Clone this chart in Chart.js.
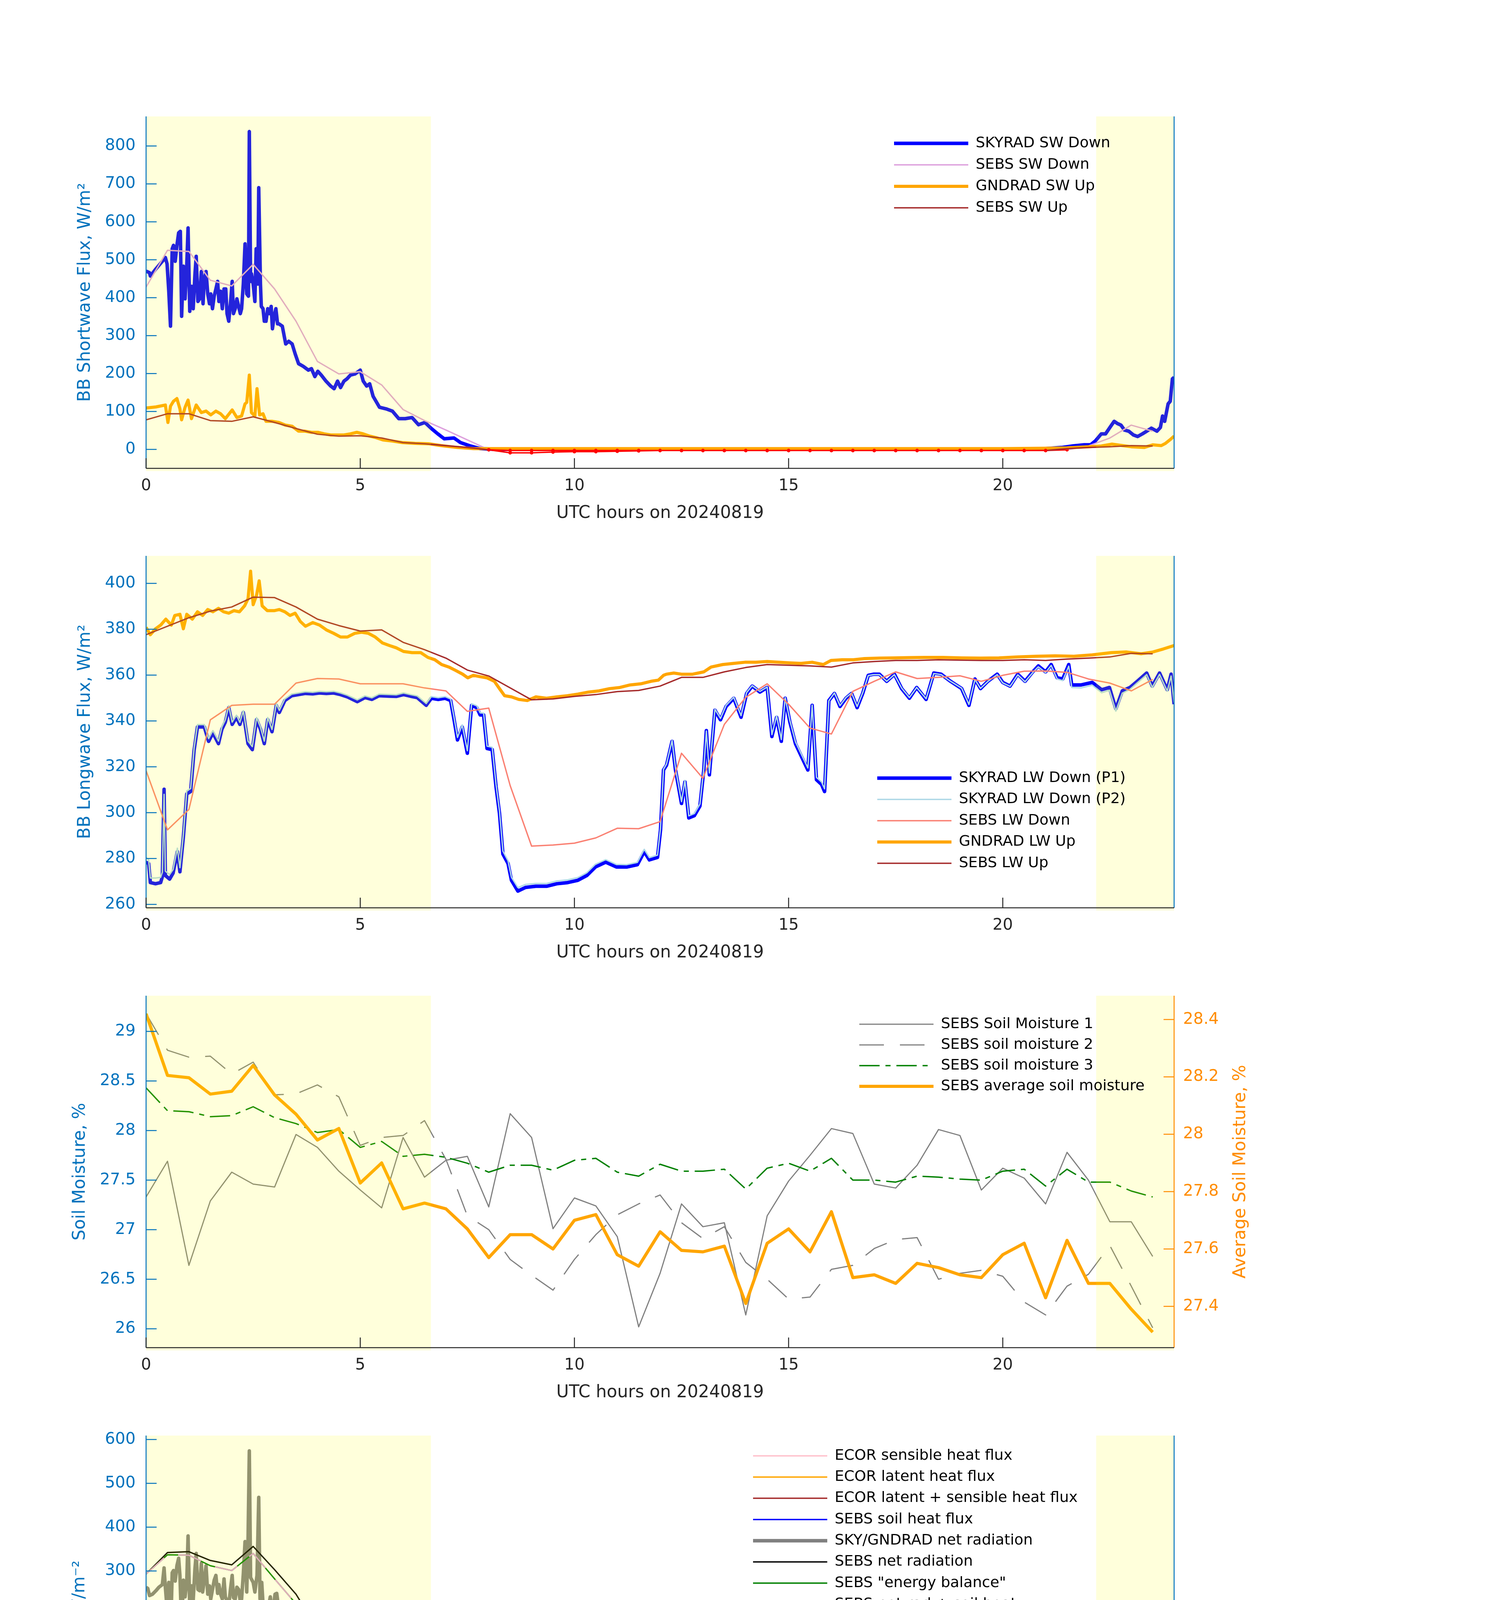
<!DOCTYPE html>
<html>
<head>
<meta charset="utf-8">
<title>Surface radiation and fluxes, 20240819</title>
<script src="https://cdn.jsdelivr.net/npm/chart.js@4.4.1/dist/chart.umd.min.js"></script>
<style>
html, body { margin: 0; padding: 0; background: #ffffff; }
body { position: relative; width: 3825px; height: 4875px; overflow: hidden; }
canvas { position: absolute; left: 0; }
</style>
</head>
<body>
<canvas id="swChart" width="3825" height="1341" style="top:0px;width:3825px;height:1341px"></canvas>
<canvas id="lwChart" width="3825" height="1341" style="top:1125px;width:3825px;height:1341px"></canvas>
<canvas id="smChart" width="3825" height="1341" style="top:2251px;width:3825px;height:1341px"></canvas>
<canvas id="fluxChart" width="3825" height="1341" style="top:3377px;width:3825px;height:1341px"></canvas>
<script>
// ---------------- data ----------------
var halfHours = [0,0.5,1,1.5,2,2.5,3,3.5,4,4.5,5,5.5,6,6.5,7,7.5,8,8.5,9,9.5,10,10.5,11,11.5,
  12,12.5,13,13.5,14,14.5,15,15.5,16,16.5,17,17.5,18,18.5,19,19.5,20,20.5,21,21.5,22,22.5,23,23.5];
var hourTicks = [0, 5, 10, 15, 20];
var shadeSpans = [[0, 6.65], [22.18, 24]];

// panel 1 - shortwave
var swTicks = [0, 100, 200, 300, 400, 500, 600, 700, 800];
var skySwHours = [0.00,0.08,0.10,0.23,0.38,0.45,0.49,0.53,0.57,0.61,
  0.64,0.68,0.72,0.76,0.80,0.83,0.87,0.91,0.95,0.98,
  1.02,1.06,1.10,1.14,1.17,1.21,1.25,1.29,1.33,1.36,
  1.40,1.44,1.48,1.51,1.55,1.59,1.63,1.67,1.70,1.74,
  1.78,1.82,1.86,1.89,1.93,1.97,2.01,2.04,2.08,2.12,
  2.16,2.20,2.23,2.27,2.31,2.35,2.39,2.41,2.44,2.46,
  2.50,2.54,2.57,2.61,2.63,2.67,2.69,2.73,2.76,2.80,
  2.84,2.88,2.92,2.95,2.99,3.03,3.07,3.10,3.18,3.26,
  3.33,3.41,3.48,3.56,3.67,3.79,3.86,3.94,4.01,4.09,
  4.20,4.31,4.39,4.47,4.54,4.62,4.69,4.77,4.88,5.00,
  5.07,5.15,5.22,5.30,5.45,5.60,5.75,5.90,6.05,6.21,
  6.36,6.51,6.66,6.81,6.96,7.19,7.34,7.57,7.80,8.20,
  9.50,11.00,13.00,15.00,17.00,19.00,20.50,21.00,21.37,21.63,
  21.90,22.05,22.16,22.30,22.40,22.52,22.60,22.68,22.76,22.84,
  22.94,23.05,23.15,23.26,23.36,23.47,23.60,23.68,23.73,23.78,
  23.86,23.91,23.96,24.00];
var skySwDown = [470,466,457,476,496,506,489,417,325,529,
  538,496,538,571,575,351,483,397,486,584,
  364,430,371,460,509,390,397,469,384,450,
  469,410,384,410,371,404,423,443,390,417,
  371,423,423,358,338,384,443,358,371,397,
  377,358,371,436,542,410,404,838,443,463,
  436,390,529,436,690,436,377,371,338,338,
  371,358,377,318,351,371,331,331,325,278,
  285,278,252,226,219,209,213,192,206,196,
  180,167,160,180,163,180,186,196,199,209,
  180,167,173,140,111,107,101,81,81,84,
  65,71,55,41,28,30,18,9,2,0,
  0,0,0,0,0,0,0,2,5,9,
  12,12,22,41,41,61,74,68,64,51,
  48,38,34,41,48,56,48,58,88,74,
  120,127,186,190];
var sebsSwDown = [428,525,522,446,431,488,423,338,232,199,205,170,
  105,76,51,25,-1,-9,-9,-7,-6,-6,-5,-4,
  -3,-3,-3,-3,-3,-3,-3,-3,-3,-3,-3,-3,
  -3,-3,-3,-3,-3,-3,-3,-1,9,30,64,48];
var gndSwHours = [0,0.23,0.45,0.51,0.57,0.64,0.72,0.79,0.83,0.91,
  0.98,1.06,1.17,1.29,1.40,1.51,1.63,1.74,1.85,2.01,
  2.12,2.23,2.31,2.35,2.41,2.46,2.54,2.59,2.65,2.73,
  2.80,2.95,3.10,3.25,3.41,3.56,3.71,3.86,4.01,4.16,
  4.31,4.47,4.62,4.77,4.92,5.07,5.22,5.37,5.53,5.75,
  5.98,6.28,6.59,6.89,7.27,7.65,8.50,12,16,20,
  21,21.5,22,22.3,22.55,22.8,23,23.3,23.5,23.7,
  23.8,23.9,24];
var gndSwUp = [109,112,117,71,114,127,134,107,78,111,
  130,81,117,97,101,91,101,94,81,104,
  84,88,120,124,196,97,88,160,91,94,
  74,74,71,64,61,48,48,45,45,41,
  38,38,38,41,45,41,35,31,25,22,
  18,16,15,10,5,2,2,2,2,2,
  3,4,7,9,14,10,7,5,12,10,
  16,25,35];
var sebsSwUp = [78,94,94,76,74,86,71,55,40,35,36,30,
  18,15,10,5,-1,-3,-3,-3,-3,-3,-3,-3,
  -3,-3,-3,-3,-3,-3,-3,-3,-3,-3,-3,-3,
  -3,-3,-3,-3,-3,-3,-3,2,5,7,10,9];

// panel 2 - longwave
var lwTicks = [260, 280, 300, 320, 340, 360, 380, 400];
var skyLwHours = [0,0.06,0.10,0.22,0.34,0.38,0.42,0.45,0.55,0.63,
  0.73,0.79,0.87,0.95,1.04,1.12,1.20,1.28,1.36,1.46,
  1.56,1.69,1.77,1.85,1.93,2.01,2.11,2.19,2.27,2.38,
  2.48,2.58,2.67,2.76,2.84,2.94,3.04,3.11,3.24,3.40,
  3.56,3.72,3.89,4.05,4.21,4.38,4.54,4.70,4.93,5.11,
  5.27,5.44,5.68,5.84,6.01,6.17,6.33,6.54,6.66,6.82,
  6.98,7.11,7.19,7.27,7.38,7.50,7.60,7.72,7.80,7.88,
  7.96,8.08,8.17,8.25,8.33,8.45,8.53,8.68,8.86,9.10,
  9.35,9.59,9.84,10.08,10.29,10.49,10.73,10.98,11.22,11.47,
  11.63,11.75,11.94,12.01,12.08,12.15,12.28,12.36,12.50,12.58,
  12.67,12.80,12.93,13.02,13.08,13.15,13.28,13.41,13.54,13.72,
  13.89,14.02,14.15,14.33,14.50,14.61,14.72,14.83,14.92,15.03,
  15.16,15.29,15.45,15.55,15.65,15.77,15.84,15.94,16.07,16.20,
  16.34,16.47,16.60,16.73,16.86,16.99,17.12,17.29,17.47,17.64,
  17.82,17.99,18.21,18.39,18.56,18.78,19.04,19.21,19.35,19.48,
  19.65,19.87,20.00,20.17,20.35,20.52,20.70,20.83,21.00,21.13,
  21.27,21.40,21.54,21.61,21.83,22.09,22.31,22.49,22.64,22.79,
  22.97,23.14,23.36,23.49,23.66,23.84,23.93,24.00];
var skyLwP1 = [278.4,277.8,269.5,269,269.5,272.1,310.2,272.6,271,273.6,
  283,274.2,289.3,308.2,309.2,327,337.4,337.4,337.4,331.1,
  334.8,330.1,336.4,339.5,345.8,338.5,341.6,338.5,343.7,330.1,
  327.5,340.6,336.4,330.1,340.6,335.3,346.8,343.7,348.9,351,
  351.5,352,351.8,352.2,352,352.2,351.5,350.5,348.4,350.2,
  349.4,351,350.8,350.7,351.5,350.8,350.2,346.8,349.9,349.4,
  349.9,348.9,340.6,331.7,337.4,325.9,346.8,345.8,342.6,342.6,
  328,327.5,311.3,299.8,282,277.8,270.5,265.8,267.4,267.9,
  267.9,269,269.5,270.5,272.6,276.3,278.4,276.3,276.3,277.3,
  283,279.4,280.5,292.5,318.6,320.7,331.1,318.6,304,313.4,
  297.7,298.7,302.9,318.6,335.8,316.5,344.7,340.5,346.3,349.9,
  341.6,352,355.2,352.6,354.6,333.2,341.6,331.1,349.9,339.5,
  330.1,324.9,318.6,346.8,314.4,312.3,309.2,348.9,352,346.3,
  349.9,352,345.8,352,359.9,360.4,360.4,357.3,360.4,354.1,
  349.9,354.6,349.4,360.9,360.4,357.3,354.1,346.8,358.3,354.1,
  357.3,360.4,356.8,355.2,360.4,357.3,361.4,364,361.4,364.6,
  358.8,358.3,364.6,355.7,355.7,356.8,353.6,354.6,345.3,353.1,
  354.6,357.3,360.9,355.2,360.9,353.6,360.4,347.3];
var skyLwP2 = [280.5,279.5,271.5,271.5,271.8,274,308,274.5,273,275.2,
  284.5,276,290.5,309.5,310.5,328,338.4,338.4,338.4,332.3,
  335.8,331.2,337.4,340.5,346.6,339.5,342.5,339.4,344.5,331.2,
  328.8,341.5,337.3,331.2,341.5,336.3,347.6,344.6,349.6,351.7,
  352.2,352.7,352.5,352.9,352.7,352.9,352.2,351.2,349.2,350.9,
  350.1,351.7,351.5,351.4,352.2,351.5,350.9,347.6,350.6,350.1,
  350.6,349.6,341.5,332.8,338.3,327,347.5,346.6,343.5,343.4,
  329,328.5,312.3,300.8,283.2,279,271.8,267.3,268.7,269.1,
  269.1,270.2,270.7,271.7,273.8,277.5,279.5,277.4,277.3,278.3,
  284,280.4,281.5,293.3,318.9,321.2,331.5,319.3,304.8,314.1,
  298.6,299.6,303.7,319.2,335.6,317.3,345.1,341.1,346.8,350.3,
  342.3,352.4,355.4,352.9,354.8,334,342.2,331.9,350.2,340.2,
  330.9,325.8,319.5,346.9,315.4,313.3,310.4,348.8,352.2,346.7,
  350.2,352.2,346.3,352.3,359.8,360.2,360.2,357.3,360.2,354.3,
  350.2,354.6,349.7,360.7,360.2,357.3,354.3,347.2,358.1,354.2,
  357.2,360.2,356.6,355.1,360.1,357.1,361.1,363.6,361.1,364.2,
  358.3,357.6,363.9,354.6,354.4,355.6,352.3,353.4,344.3,352.1,
  353.8,356.6,360.2,354.6,360.3,353,359.6,348];
var sebsLwDown = [318.3,292.5,301.4,340.5,346.8,347.3,347.3,356.5,358.5,358.3,356.2,356.2,
  356.2,354.4,353.1,344.2,345.6,311.8,285.4,285.9,286.7,289,293.2,293,
  296.1,325.9,315,338.5,350.3,356.2,347.3,336.9,334.3,352.9,357.3,361.4,
  358.5,359,359.7,357.3,359.9,361.7,361.8,361.2,358.3,356.5,353.1,358.1];
var gndLwHours = [0,0.10,0.22,0.34,0.46,0.59,0.67,0.79,0.87,0.95,
  1.08,1.20,1.32,1.44,1.56,1.69,1.81,1.93,2.05,2.18,
  2.30,2.38,2.44,2.50,2.58,2.64,2.71,2.83,2.99,3.11,
  3.24,3.36,3.48,3.60,3.72,3.89,4.05,4.21,4.38,4.54,
  4.70,4.87,5.03,5.19,5.35,5.52,5.68,5.84,6.01,6.21,
  6.41,6.58,6.74,6.90,7.07,7.23,7.39,7.51,7.64,7.80,
  7.96,8.13,8.25,8.37,8.53,8.70,8.90,9.10,9.35,9.59,
  9.84,10.08,10.33,10.57,10.82,11.06,11.30,11.55,11.79,11.96,
  12.08,12.15,12.32,12.50,12.76,13.02,13.19,13.46,13.72,13.98,
  14.24,14.50,14.76,15.03,15.29,15.55,15.81,15.99,16.25,16.51,
  16.77,17.12,17.47,17.82,18.17,18.60,19.04,19.48,19.91,20.35,
  20.79,21.22,21.66,22.09,22.53,22.88,23.23,23.49,23.75,24.00];
var gndLwUp = [380.8,377.6,380.2,381.8,384.4,381.8,386,386.5,380.2,386.5,
  384.4,387.6,386,388.6,387.6,389.1,387.6,387,388.1,387.6,
  390.2,393.3,405.3,390.7,394.9,401.1,390.2,388.1,388.1,388.6,
  387.6,386,387,383.4,381.3,382.9,381.8,379.7,378.2,376.6,
  376.6,378.2,378.7,378.2,376.6,374,372.9,371.9,370.3,369.8,
  369.8,367.7,366.7,364.6,363.5,362,360.4,358.8,359.9,359.3,
  358.8,357.3,354.1,351,350.5,349.4,348.9,350.5,349.9,350.5,
  351,351.7,352.6,353.1,354.1,354.6,355.7,356.2,357.3,357.8,
  359.9,360.4,360.9,360.4,360.4,361.4,363.5,364.6,365.1,365.6,
  365.6,365.9,365.6,365.3,365.1,365.6,364.6,366.4,366.7,366.7,
  367.2,367.4,367.5,367.6,367.7,367.7,367.5,367.4,367.5,367.9,
  368.2,368.4,368.2,368.8,369.8,370.1,369.3,370,371.4,372.9];
var sebsLwUp = [377.6,381.3,385,387.9,389.7,394,393.8,389.7,384.4,381.6,379.2,379.7,
  374.3,371.1,367.4,362.2,359.6,354.4,349.2,349.6,350.7,351.5,352.8,353.3,
  355.2,359,359,361.4,363.3,364.6,364.3,364,363.5,365.3,365.9,366.4,
  366.4,366.7,366.5,366.4,366.4,366.7,366.4,367,367.4,367.9,369.5,369.3];

// panel 3 - soil moisture
var smTicks = [26, 26.5, 27, 27.5, 28, 28.5, 29];
var avgTicks = [27.4, 27.6, 27.8, 28, 28.2, 28.4];
var soilMoist1 = [27.33,27.69,26.64,27.29,27.58,27.46,27.43,27.96,27.83,27.59,27.40,27.22,
  27.93,27.53,27.70,27.74,27.23,28.17,27.93,27.01,27.32,27.24,26.93,26.02,
  26.56,27.26,27.03,27.07,26.14,27.14,27.49,27.75,28.02,27.97,27.46,27.42,
  27.65,28.01,27.95,27.40,27.62,27.52,27.26,27.78,27.50,27.08,27.08,26.73];
var soilMoist2 = [29.18,28.81,28.74,28.75,28.57,28.69,28.36,28.37,28.46,28.34,27.85,27.93,
  27.95,28.10,27.71,27.14,27.00,26.70,26.54,26.39,26.70,26.95,27.15,27.26,
  27.35,27.07,26.91,27.03,26.67,26.50,26.30,26.32,26.60,26.64,26.81,26.90,
  26.92,26.50,26.56,26.59,26.53,26.27,26.14,26.43,26.55,26.84,26.43,26.01];
var soilMoist3 = [28.43,28.20,28.19,28.14,28.15,28.24,28.13,28.07,27.98,28.01,27.83,27.89,
  27.74,27.76,27.73,27.67,27.58,27.65,27.65,27.60,27.70,27.72,27.58,27.54,
  27.66,27.59,27.59,27.61,27.41,27.62,27.67,27.59,27.72,27.50,27.50,27.48,
  27.54,27.53,27.51,27.50,27.59,27.61,27.44,27.61,27.48,27.48,27.39,27.33];
var soilMoistAvg = [28.42,28.205,28.197,28.14,28.15,28.24,28.137,28.07,27.98,28.02,27.83,27.90,
  27.74,27.76,27.74,27.67,27.57,27.65,27.65,27.60,27.70,27.72,27.58,27.54,
  27.66,27.595,27.59,27.61,27.41,27.62,27.67,27.59,27.73,27.50,27.51,27.48,
  27.55,27.535,27.51,27.50,27.58,27.62,27.43,27.63,27.48,27.48,27.39,27.31];

// panel 4 - surface energy fluxes
var fluxTicks = [-100, 0, 100, 200, 300, 400, 500, 600];
var ecorSens = [51,50,61,69,76,85,83,47,32,24,21,21,
  5,-3,-10,-14,-13,-31,-43,-46,-45,-48,-52,-59,
  -57,-40,-38,-23,-15,-15,-21,-25,-26,-13,-10,-4,
  -7,-6,-9,-7,-4,-7,-10,47,-2,-56,-111,-144];
var ecorLat = [58,66,75,95,96,98,110,80,60,52,60,52,
  38,40,36,35,17,16,15,19,19,17,17,16,
  17,20,23,20,24,23,20,17,16,19,15,12,
  14,12,14,14,13,13,39,20,90,72,67,-14];
var ecorSum = [109,116,135,162,172,181,192,128,92,75,80,73,
  39,38,28,20,5,-15,-29,-29,-28,-33,-35,-44,
  -40,-18,-22,-6,7,8,1,-7,-8,-1,1,2,
  4,3,7,5,5,7,28,67,90,23,-45,-157];
var ecorSensQc = [23, 23.5];
var ecorLatQc = [23.5];
var ecorSumQc = [22, 23, 23.5];
var sebsSoilHeat = [0,-5,-7,-10,-14,-15,-18,-18,-15,-13,-10,-8,
  -7,-4,-3,0,3,5,8,9,10,10,10,10,
  10,10,10,10,8,7,5,4,4,4,4,4,
  4,4,4,4,4,3,2,2,1,1,0,0];
var netRadHours = [0.00,0.04,0.08,0.15,0.23,0.30,0.38,0.42,0.45,0.49,
  0.53,0.57,0.61,0.64,0.68,0.72,0.76,0.79,0.83,0.87,
  0.91,0.95,0.98,1.02,1.06,1.10,1.14,1.17,1.21,1.25,
  1.29,1.32,1.36,1.40,1.44,1.48,1.51,1.59,1.63,1.67,
  1.70,1.74,1.78,1.82,1.85,1.93,1.97,2.01,2.04,2.08,
  2.12,2.16,2.20,2.23,2.27,2.31,2.35,2.38,2.41,2.44,
  2.50,2.54,2.59,2.63,2.66,2.70,2.74,2.80,2.85,2.90,
  2.95,3.01,3.05,3.09,3.13,3.18,3.26,3.33,3.41,3.48,
  3.52,3.60,3.71,3.79,3.86,3.94,4.01,4.09,4.16,4.24,
  4.31,4.39,4.47,4.54,4.62,4.69,4.77,4.88,5.00,5.07,
  5.15,5.22,5.30,5.37,5.45,5.53,5.60,5.68,5.75,5.90,
  5.98,6.06,6.21,6.28,6.40,6.51,6.62,6.74,6.89,7.04,
  7.19,7.27,7.38,7.46,7.49,7.57,7.68,7.80,7.91,7.99,
  8.10,8.18,8.29,8.37,8.48,8.59,8.71,8.86,9.01,9.16,
  9.39,9.61,9.84,10.07,10.30,10.52,10.75,10.98,11.19,11.39,
  11.67,11.90,11.99,12.13,12.27,12.36,12.46,12.60,12.74,12.88,
  13.02,13.11,13.20,13.34,13.53,13.72,13.90,14.09,14.27,14.46,
  14.60,14.74,14.93,15.11,15.30,15.44,15.53,15.62,15.76,15.86,
  16.00,16.23,16.51,16.79,17.07,17.35,17.63,17.91,18.18,18.46,
  18.74,19.02,19.21,19.49,19.77,20.05,20.33,20.61,20.88,21.16,
  21.44,21.72,21.96,22.09,22.23,22.37,22.56,22.75,22.89,23.03,
  23.17,23.31,23.49,23.63,23.72,23.82,23.91,24.00];
var skyGndNetRad = [263,260,244,247,255,263,269,307,263,214,
  274,146,296,301,277,312,329,290,173,279,
  241,277,380,214,266,233,304,340,258,255,
  318,252,279,312,247,266,236,279,290,249,
  269,247,236,282,241,222,258,290,239,236,
  263,258,230,236,293,367,252,367,574,285,
  274,252,290,468,236,274,209,219,214,241,
  198,247,249,219,214,203,187,190,181,176,
  148,140,138,135,129,127,129,124,121,110,
  105,102,118,102,116,116,124,127,132,110,
  99,102,86,80,75,69,64,58,56,44,
  42,44,47,42,33,34,28,20,15,9,
  7,-4,-10,-7,-23,-10,-10,-14,-21,-32,
  -37,-53,-67,-75,-75,-81,-84,-82,-82,-81,
  -81,-81,-81,-79,-78,-74,-75,-77,-78,-78,
  -77,-75,-48,-37,-29,-43,-53,-59,-64,-56,
  -37,-18,-26,-18,-15,-13,-15,-14,-14,-13,
  -29,-32,-29,-37,-40,-45,-26,-51,-51,-26,
  -18,-15,-14,-9,-9,-5,-7,-10,-13,-9,
  -10,-13,-15,-9,-7,-7,-9,-7,-6,-4,
  -3,-1,0,4,12,23,37,34,26,23,
  17,26,33,29,45,56,91,127];
var sebsNetRad = [293,342,344,324,314,356,303,247,168,143,147,117,
  69,46,28,2,-15,-47,-69,-69,-68,-66,-63,-63,
  -63,-34,-47,-22,-14,-9,-18,-26,-30,-11,-10,-5,
  -9,-9,-7,-9,-6,-6,-6,-5,-2,13,37,29];
var sebsEnergyBal = [293,337,336,312,301,340,282,225,151,129,136,106,
  61,42,27,2,-11,-41,-62,-61,-59,-57,-53,-55,
  -53,-26,-39,-15,-7,-4,-14,-22,-25,-9,-5,-3,
  -6,-5,-5,-7,-4,-4,-4,-4,-1,13,37,29];
var sebsNetPlusSoil = [293,337,336,312,301,340,282,225,151,129,136,106,
  61,42,27,2,-11,-41,-62,-61,-59,-57,-53,-55,
  -53,-26,-39,-15,-7,-4,-14,-22,-25,-9,-5,-3,
  -6,-5,-5,-7,-4,-4,-4,-4,-1,13,37,29];

// ---------------- styling helpers ----------------
var FONT = '"DejaVu Sans", "Liberation Sans", sans-serif';
var AXIS_BLUE = '#0072BD';
var AXIS_ORANGE = '#FF8C00';
var INK = '#262626';

function pts(xs, ys) {
  return xs.map(function (x, i) { return { x: x, y: ys[i] }; });
}

function series(label, hours, values, color, width, extra) {
  return Object.assign({
    label: label,
    data: pts(hours, values),
    borderColor: color,
    backgroundColor: color,
    borderWidth: width,
    pointRadius: 0,
    tension: 0,
    borderJoinStyle: 'round',
    fill: false
  }, extra || {});
}

// bad-qc points get a red dot; optionally the line between two bad points is red too
function qc(hours, badHours, redLine, radius) {
  var isBad = function (i) { return badHours.indexOf(hours[i]) >= 0; };
  var o = {
    pointRadius: function (c) { return isBad(c.dataIndex) ? (radius || 5) : 0; },
    pointBackgroundColor: 'red',
    pointBorderColor: 'red',
    pointBorderWidth: 0
  };
  if (redLine) {
    o.segment = {
      borderColor: function (c) { return (isBad(c.p0DataIndex) && isBad(c.p1DataIndex)) ? 'red' : undefined; }
    };
  }
  return o;
}

function seg(ctx, x0, y0, x1, y1) {
  ctx.beginPath(); ctx.moveTo(x0, y0); ctx.lineTo(x1, y1); ctx.stroke();
}

// shading, MATLAB-like box with inward ticks, legend
var decor = {
  id: 'decor',
  afterDatasetsDraw: function (chart, args, o) {
    var ctx = chart.ctx, a = chart.chartArea, xs = chart.scales.x, ys = chart.scales.y;
    ctx.save();
    ctx.fillStyle = 'rgba(255,255,0,0.14)';
    shadeSpans.forEach(function (s) {
      var p0 = xs.getPixelForValue(s[0]), p1 = xs.getPixelForValue(s[1]);
      ctx.fillRect(p0, a.top, p1 - p0, a.bottom - a.top + 7);
    });

    ctx.lineWidth = 2.5;
    ctx.lineCap = 'butt';
    ctx.strokeStyle = AXIS_BLUE;
    seg(ctx, a.left, a.top, a.left, a.bottom);
    ys.ticks.forEach(function (t) {
      var p = ys.getPixelForValue(t.value);
      seg(ctx, a.left, p, a.left + 27, p);
    });
    ctx.strokeStyle = o.rightColor || AXIS_BLUE;
    seg(ctx, a.right, a.top, a.right, a.bottom);
    if (chart.scales.y2) {
      var y2 = chart.scales.y2;
      y2.ticks.forEach(function (t) {
        var p = y2.getPixelForValue(t.value);
        seg(ctx, a.right - 27, p, a.right, p);
      });
    }
    ctx.strokeStyle = INK;
    seg(ctx, a.left, a.bottom, a.right, a.bottom);
    xs.ticks.forEach(function (t) {
      var p = xs.getPixelForValue(t.value);
      seg(ctx, p, a.bottom, p, a.bottom - 26);
    });

    if (o.rightTitle) {
      ctx.save();
      ctx.translate(o.rightTitle.x, (a.top + a.bottom) / 2);
      ctx.rotate(-Math.PI / 2);
      ctx.fillStyle = AXIS_ORANGE;
      ctx.font = '44px ' + FONT;
      ctx.textAlign = 'center';
      ctx.textBaseline = 'middle';
      ctx.fillText(o.rightTitle.text, 0, 0);
      ctx.restore();
    }

    var lg = o.legend;
    if (lg) {
      ctx.font = '38px ' + FONT;
      ctx.textAlign = 'left';
      ctx.textBaseline = 'middle';
      lg.items.forEach(function (di, k) {
        var ds = chart.data.datasets[di];
        var y = lg.y + k * lg.step;
        ctx.strokeStyle = ds.borderColor;
        ctx.lineWidth = ds.borderWidth;
        ctx.setLineDash(ds.borderDash || []);
        seg(ctx, lg.x, y, lg.x + 190, y);
        ctx.setLineDash([]);
        ctx.fillStyle = '#000000';
        ctx.fillText(ds.label, lg.x + 209, y);
      });
    }
    ctx.restore();
  }
};

function hourAxis() {
  return {
    type: 'linear', min: 0, max: 24,
    afterBuildTicks: function (s) { s.ticks = hourTicks.map(function (v) { return { value: v }; }); },
    afterFit: function (s) { s.height = 142; },
    grid: { display: false, drawTicks: false },
    border: { display: false },
    ticks: { color: INK, font: { family: FONT, size: 41 }, padding: 21, maxRotation: 0, autoSkip: false },
    title: { display: true, text: 'UTC hours on 20240819', color: INK, font: { family: FONT, size: 44 }, padding: 0 }
  };
}

function leftAxis(min, max, ticks, title, titleCenter) {
  return {
    type: 'linear', position: 'left', min: min, max: max,
    afterBuildTicks: function (s) { s.ticks = ticks.map(function (v) { return { value: v }; }); },
    afterFit: function (s) { s.width = 374; },
    grid: { display: false, drawTicks: false },
    border: { display: false },
    ticks: { color: AXIS_BLUE, font: { family: FONT, size: 41 }, padding: 27, autoSkip: false,
      callback: function (v) { return String(v); } },
    title: { display: true, text: title, color: AXIS_BLUE, font: { family: FONT, size: 44 },
      padding: { top: titleCenter - 26.4, bottom: 0 } }
  };
}

function makeChart(id, datasets, yScales, decorOpts, rightPad) {
  datasets.forEach(function (d, i) { d.order = datasets.length - i; });
  var scales = Object.assign({ x: hourAxis() }, yScales);
  return new Chart(document.getElementById(id), {
    type: 'line',
    data: { datasets: datasets },
    options: {
      responsive: false,
      animation: false,
      devicePixelRatio: 1,
      events: [],
      layout: { padding: { top: 298, right: rightPad, bottom: 0, left: 0 } },
      plugins: { legend: { display: false }, tooltip: { enabled: false }, decor: decorOpts },
      scales: scales
    },
    plugins: [decor]
  });
}

// ---------------- panel 1: shortwave ----------------
var swDownBad = halfHours.filter(function (h, i) { return sebsSwDown[i] < 0; });
var swUpBad = halfHours.filter(function (h, i) { return sebsSwUp[i] < 0; });
makeChart('swChart', [
  series('SKYRAD SW Down', skySwHours, skySwDown, '#0000FF', 9),
  series('SEBS SW Down', halfHours, sebsSwDown, '#DDA0DD', 3.5, qc(halfHours, swDownBad, true, 4.5)),
  series('GNDRAD SW Up', gndSwHours, gndSwUp, '#FFA500', 8),
  series('SEBS SW Up', halfHours, sebsSwUp, '#A52A2A', 3.5, qc(halfHours, swUpBad, true, 4.5))
], { y: leftAxis(-50, 878, swTicks, 'BB Shortwave Flux, W/m\u00B2', 219) },
  { legend: { x: 2289, y: 367, step: 55, items: [0, 1, 2, 3] } }, 819);

// ---------------- panel 2: longwave ----------------
makeChart('lwChart', [
  series('SKYRAD LW Down (P1)', skyLwHours, skyLwP1, '#0000FF', 9),
  series('SKYRAD LW Down (P2)', skyLwHours, skyLwP2, '#ADD8E6', 3.5),
  series('SEBS LW Down', halfHours, sebsLwDown, '#FA8072', 3.5),
  series('GNDRAD LW Up', gndLwHours, gndLwUp, '#FFA500', 8),
  series('SEBS LW Up', halfHours, sebsLwUp, '#A52A2A', 3.5)
], { y: leftAxis(258.5, 412, lwTicks, 'BB Longwave Flux, W/m\u00B2', 219) },
  { legend: { x: 2246, y: 867, step: 54.5, items: [0, 1, 2, 3, 4] } }, 819);

// ---------------- panel 3: soil moisture ----------------
makeChart('smChart', [
  series('SEBS Soil Moisture 1', halfHours, soilMoist1, '#808080', 3),
  series('SEBS soil moisture 2', halfHours, soilMoist2, '#808080', 3, { borderDash: [63, 41] }),
  series('SEBS soil moisture 3', halfHours, soilMoist3, '#008000', 3.5, { borderDash: [52, 15, 13, 15] }),
  series('SEBS average soil moisture', halfHours, soilMoistAvg, '#FFA500', 8, { yAxisID: 'y2' })
], {
  y: leftAxis(25.81, 29.36, smTicks, 'Soil Moisture, %', 206),
  y2: {
    type: 'linear', position: 'right', min: 27.256, max: 28.483,
    afterBuildTicks: function (s) { s.ticks = avgTicks.map(function (v) { return { value: v }; }); },
    afterFit: function (s) { s.width = 200; },
    grid: { display: false, drawTicks: false },
    border: { display: false },
    ticks: { color: AXIS_ORANGE, font: { family: FONT, size: 41 }, padding: 23, autoSkip: false,
      callback: function (v) { return String(v); } },
    title: { display: false }
  }
}, {
  rightColor: AXIS_ORANGE,
  rightTitle: { x: 3177, text: 'Average Soil Moisture, %' },
  legend: { x: 2200, y: 371, step: 53, items: [0, 1, 2, 3] }
}, 619);

// ---------------- panel 4: energy fluxes ----------------
makeChart('fluxChart', [
  series('ECOR sensible heat flux', halfHours, ecorSens, '#FFC0CB', 3.5, qc(halfHours, ecorSensQc, false, 5)),
  series('ECOR latent heat flux', halfHours, ecorLat, '#FFA500', 3.5, qc(halfHours, ecorLatQc, false, 5)),
  series('ECOR latent + sensible heat flux', halfHours, ecorSum, '#A52A2A', 3.5, qc(halfHours, ecorSumQc, true, 5)),
  series('SEBS soil heat flux', halfHours, sebsSoilHeat, '#0000FF', 3.5),
  series('SKY/GNDRAD net radiation', netRadHours, skyGndNetRad, '#808080', 9),
  series('SEBS net radiation', halfHours, sebsNetRad, '#000000', 3.5),
  series('SEBS "energy balance"', halfHours, sebsEnergyBal, '#008000', 3.5),
  series('SEBS net rad + soil heat', halfHours, sebsNetPlusSoil, '#DDA0DD', 3.5, { borderDash: [62, 39] })
], { y: leftAxis(-194, 609, fluxTicks, 'Flux, W/m\u207B\u00B2', 205) },
  { legend: { x: 1928, y: 350, step: 54.3, items: [0, 1, 2, 3, 4, 5, 6, 7] } }, 819);
</script>
</body>
</html>
